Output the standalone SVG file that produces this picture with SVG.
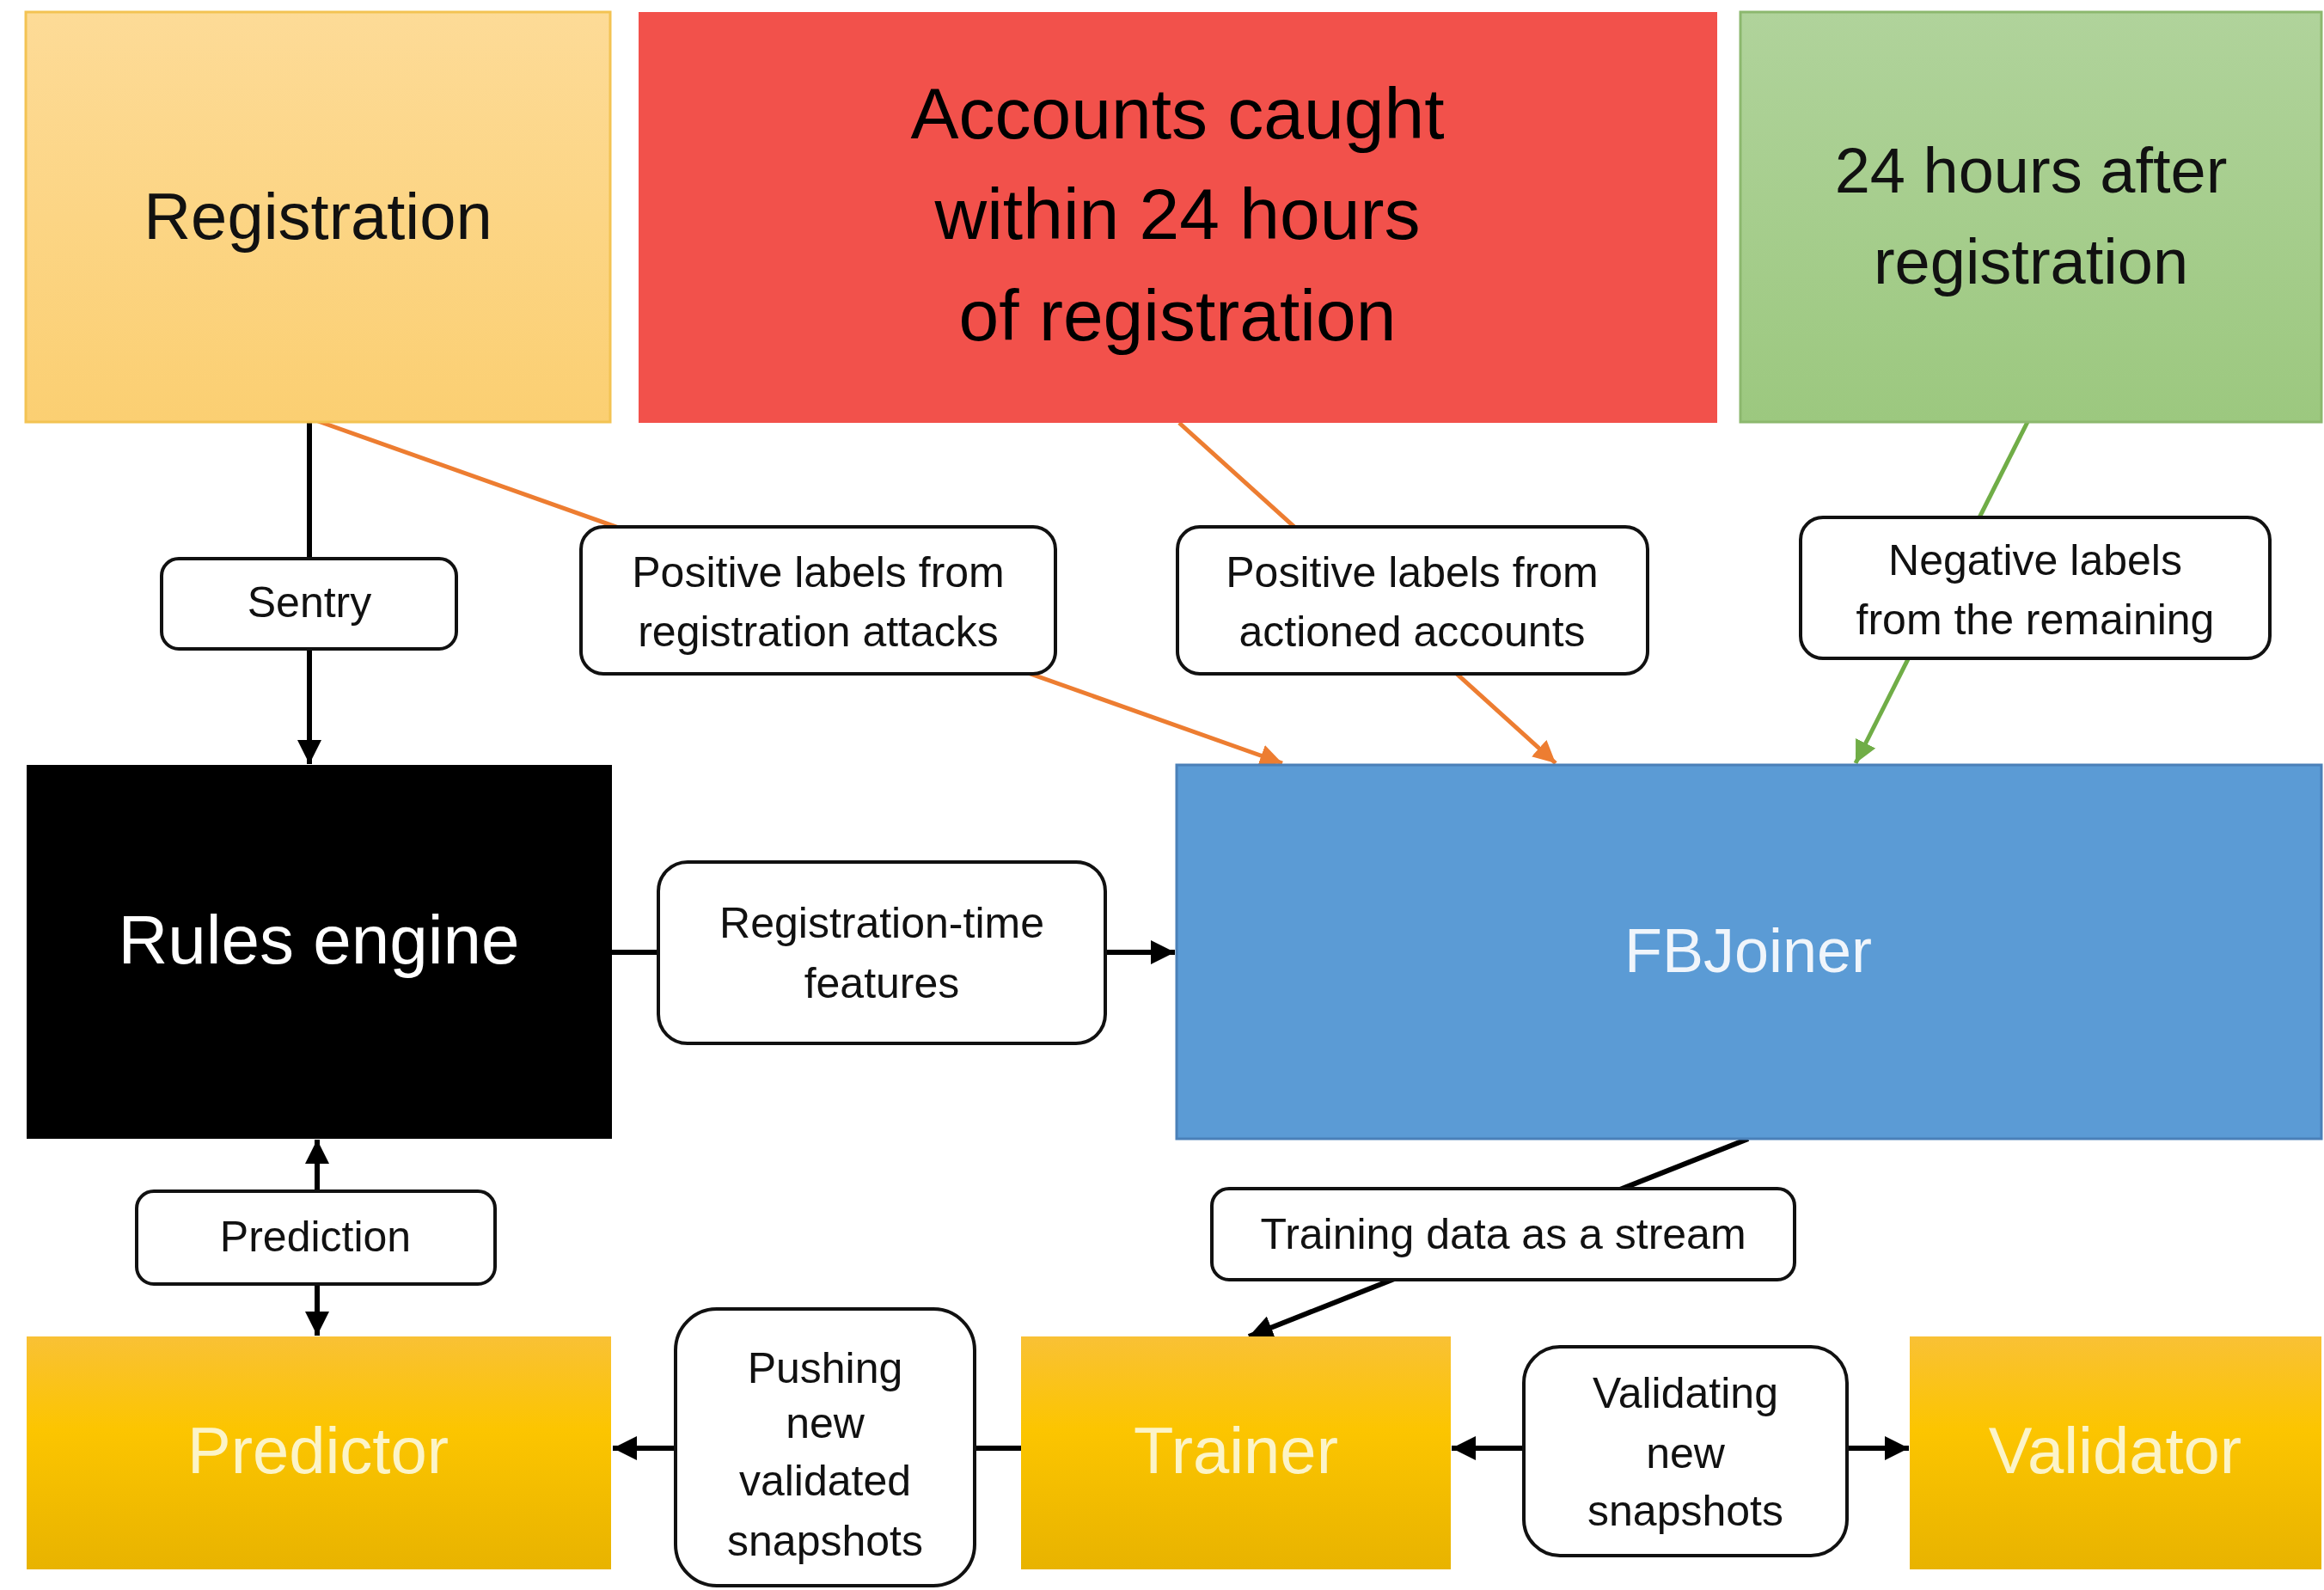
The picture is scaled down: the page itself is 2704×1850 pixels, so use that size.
<svg xmlns="http://www.w3.org/2000/svg" width="2704" height="1850" viewBox="0 0 2704 1850">
<style>
text{font-family:"Liberation Sans",Arial,sans-serif;text-anchor:middle}
.lbl{fill:#fff;stroke:#111;stroke-width:4}
.lt{font-size:50px;fill:#111}
.big{font-size:76px}
.gold{fill:url(#gGold)}
.gt{fill:#fcf4c8}
.blk{stroke:#000;stroke-width:6;fill:none}
.org{stroke:#ed7d31;stroke-width:5;fill:none}
.grn{stroke:#70ad47;stroke-width:5;fill:none}
</style>
<defs>
<linearGradient id="gGold" x1="0" y1="0" x2="0" y2="1">
<stop offset="0" stop-color="#f9c135"/>
<stop offset="0.4" stop-color="#fcc500"/>
<stop offset="1" stop-color="#e8b300"/>
</linearGradient>
<linearGradient id="gReg" x1="0" y1="0" x2="0" y2="1">
<stop offset="0" stop-color="#fddb97"/>
<stop offset="1" stop-color="#fbcf72"/>
</linearGradient>
<linearGradient id="gGrn" x1="0" y1="0" x2="0" y2="1">
<stop offset="0" stop-color="#b0d39b"/>
<stop offset="1" stop-color="#9cc87f"/>
</linearGradient>
<marker id="aB" markerUnits="userSpaceOnUse" markerWidth="30" markerHeight="28" refX="28" refY="14" orient="auto-start-reverse"><path d="M0,0 L28,14 L0,28 Z" fill="#000"/></marker>
<marker id="aO" markerUnits="userSpaceOnUse" markerWidth="28" markerHeight="26" refX="26" refY="13" orient="auto"><path d="M0,0 L26,13 L0,26 Z" fill="#ed7d31"/></marker>
<marker id="aG" markerUnits="userSpaceOnUse" markerWidth="28" markerHeight="26" refX="26" refY="13" orient="auto"><path d="M0,0 L26,13 L0,26 Z" fill="#70ad47"/></marker>
</defs>
<rect width="2704" height="1850" fill="#fff"/>

<g id="connectors">
<line class="blk" x1="360" y1="492" x2="360" y2="889" marker-end="url(#aB)"/>
<line class="org" x1="370" y1="490" x2="1492" y2="888" marker-end="url(#aO)"/>
<line class="org" x1="1372" y1="492" x2="1810" y2="888" marker-end="url(#aO)"/>
<line class="grn" x1="2359" y1="491" x2="2159" y2="888" marker-end="url(#aG)"/>
<line class="blk" x1="712" y1="1108" x2="1367" y2="1108" marker-end="url(#aB)"/>
<line class="blk" x1="369" y1="1326" x2="369" y2="1554" marker-start="url(#aB)" marker-end="url(#aB)"/>
<line class="blk" x1="2034" y1="1325" x2="1453" y2="1555" marker-end="url(#aB)"/>
<line class="blk" x1="1188" y1="1685" x2="713" y2="1685" marker-end="url(#aB)"/>
<line class="blk" x1="1689" y1="1685" x2="2221" y2="1685" marker-start="url(#aB)" marker-end="url(#aB)"/>
</g>

<g id="registration">
<rect x="30" y="14" width="680" height="477" fill="url(#gReg)" stroke="#f3c353" stroke-width="3"/>
<text class="big" x="370" y="278" fill="#111">Registration</text>
</g>
<g id="accounts-caught">
<rect x="743" y="14" width="1255" height="478" fill="#f2514b"/>
<text x="1370" y="161" font-size="84" fill="#000">Accounts caught</text>
<text x="1370" y="278" font-size="84" fill="#000">within 24 hours</text>
<text x="1370" y="396" font-size="84" fill="#000">of registration</text>
</g>
<g id="after-24h">
<rect x="2025" y="14" width="676" height="477" fill="url(#gGrn)" stroke="#8cb86e" stroke-width="3"/>
<text x="2363" y="224" font-size="74" fill="#111">24 hours after</text>
<text x="2363" y="330" font-size="74" fill="#111">registration</text>
</g>

<g id="sentry">
<rect class="lbl" x="188" y="650" width="343" height="105" rx="20"/>
<text class="lt" x="360" y="718">Sentry</text>
</g>
<g id="pos-reg-attacks">
<rect class="lbl" x="676" y="613" width="552" height="171" rx="26"/>
<text class="lt" x="952" y="683">Positive labels from</text>
<text class="lt" x="952" y="752">registration attacks</text>
</g>
<g id="pos-actioned">
<rect class="lbl" x="1370" y="613" width="547" height="171" rx="26"/>
<text class="lt" x="1643" y="683">Positive labels from</text>
<text class="lt" x="1643" y="752">actioned accounts</text>
</g>
<g id="neg-labels">
<rect class="lbl" x="2095" y="602" width="546" height="164" rx="26"/>
<text class="lt" x="2368" y="669">Negative labels</text>
<text class="lt" x="2368" y="738">from the remaining</text>
</g>

<g id="rules-engine">
<rect x="31" y="890" width="681" height="435" fill="#000"/>
<text x="371" y="1121" font-size="80" fill="#fff">Rules engine</text>
</g>
<g id="reg-time-features">
<rect class="lbl" x="766" y="1003" width="520" height="211" rx="34"/>
<text class="lt" x="1026" y="1091">Registration-time</text>
<text class="lt" x="1026" y="1161">features</text>
</g>
<g id="fbjoiner">
<rect x="1369" y="890" width="1332" height="435" fill="#5b9bd5" stroke="#4a80b8" stroke-width="3"/>
<text x="2034" y="1131" font-size="72" fill="#f0f5fb">FBJoiner</text>
</g>

<g id="prediction">
<rect class="lbl" x="159" y="1386" width="417" height="108" rx="20"/>
<text class="lt" x="367" y="1456">Prediction</text>
</g>
<g id="training-data">
<rect class="lbl" x="1410" y="1383" width="678" height="106" rx="20"/>
<text class="lt" x="1749" y="1453">Training data as a stream</text>
</g>

<g id="predictor">
<rect class="gold" x="31" y="1555" width="680" height="271"/>
<text class="big gt" x="370" y="1714">Predictor</text>
</g>
<g id="pushing">
<rect class="lbl" x="786" y="1523" width="348" height="322" rx="48"/>
<text class="lt" x="960" y="1609">Pushing</text>
<text class="lt" x="960" y="1673">new</text>
<text class="lt" x="960" y="1740">validated</text>
<text class="lt" x="960" y="1810">snapshots</text>
</g>
<g id="trainer">
<rect class="gold" x="1188" y="1555" width="500" height="271"/>
<text class="big gt" x="1438" y="1714">Trainer</text>
</g>
<g id="validating">
<rect class="lbl" x="1773" y="1567" width="376" height="243" rx="42"/>
<text class="lt" x="1961" y="1638">Validating</text>
<text class="lt" x="1961" y="1708">new</text>
<text class="lt" x="1961" y="1775">snapshots</text>
</g>
<g id="validator">
<rect class="gold" x="2222" y="1555" width="479" height="271"/>
<text class="big gt" x="2461" y="1714">Validator</text>
</g>
</svg>
